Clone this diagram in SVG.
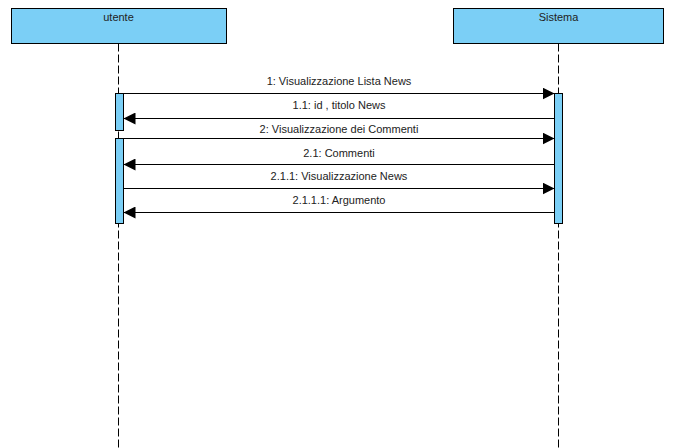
<svg xmlns="http://www.w3.org/2000/svg" width="697" height="448" viewBox="0 0 697 448">
<style>
.box{fill:#7BCFF6;stroke:#000;stroke-width:1}
.act{fill:#7BCFF6;stroke:#000;stroke-width:1}
.life{stroke:#000;stroke-width:1;stroke-dasharray:8,3;fill:none}
.msg{stroke:#000;stroke-width:1;fill:none}
text{font-family:"Liberation Sans",Arial,sans-serif;font-size:11px;fill:#222;text-anchor:middle}
</style>
<defs>
<marker id="ah" markerWidth="12" markerHeight="12" refX="12" refY="6" orient="auto" markerUnits="userSpaceOnUse">
<path d="M0,0 L12,6 L0,12 Z" fill="#000"/>
</marker>
</defs>
<rect width="697" height="448" fill="#fff"/>
<g id="utente">
<rect class="box" x="11.5" y="8.5" width="215" height="35"/>
<text x="118.5" y="21">utente</text>
<line class="life" x1="118.5" y1="43.5" x2="118.5" y2="448"/>
<rect class="act" x="115.5" y="93.5" width="8" height="37"/>
<rect class="act" x="115.5" y="138.5" width="8" height="85"/>
</g>
<g id="sistema">
<rect class="box" x="453.5" y="8.5" width="210" height="35"/>
<text x="558.5" y="21">Sistema</text>
<line class="life" x1="558.5" y1="43.5" x2="558.5" y2="448"/>
<rect class="act" x="554.5" y="93.5" width="8" height="130"/>
</g>
<g id="connectors">
<line class="msg" x1="123.5" y1="93.5" x2="554.5" y2="93.5" marker-end="url(#ah)"/>
<text x="339" y="85">1: Visualizzazione Lista News</text>
<line class="msg" x1="554.5" y1="118.5" x2="123.5" y2="118.5" marker-end="url(#ah)"/>
<text x="339" y="109">1.1: id , titolo News</text>
<line class="msg" x1="123.5" y1="138.5" x2="554.5" y2="138.5" marker-end="url(#ah)"/>
<text x="339" y="133">2: Visualizzazione dei Commenti</text>
<line class="msg" x1="554.5" y1="164.5" x2="123.5" y2="164.5" marker-end="url(#ah)"/>
<text x="339" y="157">2.1: Commenti</text>
<line class="msg" x1="123.5" y1="188.5" x2="554.5" y2="188.5" marker-end="url(#ah)"/>
<text x="339" y="179.5">2.1.1: Visualizzazione News</text>
<line class="msg" x1="554.5" y1="212.5" x2="123.5" y2="212.5" marker-end="url(#ah)"/>
<text x="339" y="203.5">2.1.1.1: Argumento</text>
</g>
</svg>
